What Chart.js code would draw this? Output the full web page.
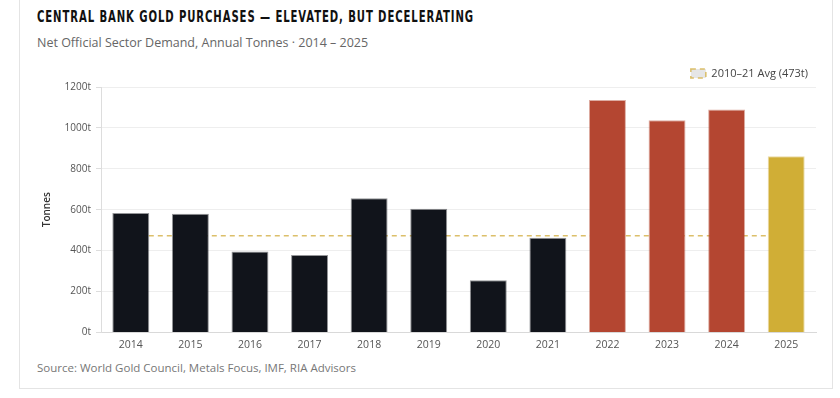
<!DOCTYPE html>
<html>
<head>
<meta charset="utf-8">
<script src="https://cdn.jsdelivr.net/npm/chart.js@4.4.1/dist/chart.umd.min.js"></script>
<style>
  html, body { margin:0; padding:0; background:#fff; width:840px; height:398px; overflow:hidden; }
  #card { position:absolute; left:19px; top:-2px; width:814px; height:391px; border:1px solid #e4e4e4; background:#fff; box-sizing:border-box; }
  #title { position:absolute; left:37px; top:8px; font-family:"DejaVu Sans Condensed","DejaVu Sans",sans-serif; font-weight:bold; font-size:15px; letter-spacing:1.2px; color:#111; white-space:nowrap; transform-origin:0 0; }
  #subtitle { position:absolute; left:37px; top:34px; font-family:"Open Sans",sans-serif; font-size:12.5px; color:#666; white-space:nowrap; }
  #source { position:absolute; left:37px; top:360px; font-family:"Open Sans",sans-serif; font-size:11.5px; color:#777; white-space:nowrap; }
  #wrap { position:absolute; left:19px; top:55px; width:814px; height:302px; }
</style>
</head>
<body>
<div id="card"></div>
<div id="title">CENTRAL BANK GOLD PURCHASES — ELEVATED, BUT DECELERATING</div>
<div id="subtitle">Net Official Sector Demand, Annual Tonnes · 2014 – 2025</div>
<div id="source">Source: World Gold Council, Metals Focus, IMF, RIA Advisors</div>
<div id="wrap"><canvas id="c" width="814" height="302"></canvas></div>
<script>
const years = ["2014","2015","2016","2017","2018","2019","2020","2021","2022","2023","2024","2025"];
const tonnes = [584, 580, 395, 379, 656, 605, 255, 463, 1136, 1037, 1090, 861];
const avgLabel = "2010–21 Avg (473t)";
const avgLine = [473, 473, 473, 473, 473, 473, 473, 473, 473, 473, 473, 473];
const yTicks = [0, 200, 400, 600, 800, 1000, 1200];

// fit title width
(function(){
  const t = document.getElementById('title');
  const w = t.getBoundingClientRect().width;
  t.style.transform = 'scaleX(' + (437 / w) + ')';
})();

function barFill(ctx) {
  const y = +years[ctx.dataIndex];
  if (y >= 2025) return '#d0ae36';
  if (y >= 2022) return '#b44631';
  return '#11141b';
}
function barEdge(ctx) {
  const y = +years[ctx.dataIndex];
  if (y >= 2025) return 'rgba(208,174,54,0.45)';
  if (y >= 2022) return 'rgba(180,70,49,0.45)';
  return 'rgba(17,20,27,0.45)';
}

const legendHeight = {
  id: 'legendHeight',
  beforeInit(chart) {
    const orig = chart.legend.fit;
    chart.legend.fit = function () {
      orig.call(this);
      this.height = 27;
    };
  }
};

const font = { family: "'Open Sans', sans-serif", size: 10 };

new Chart(document.getElementById('c'), {
  type: 'bar',
  data: {
    labels: years,
    datasets: [
      {
        type: 'bar',
        label: 'Net Official Sector Demand',
        data: tonnes,
        backgroundColor: barFill,
        borderColor: barEdge,
        borderWidth: 1,
        categoryPercentage: 1,
        barPercentage: 0.62,
        order: 1
      },
      {
        type: 'line',
        label: avgLabel,
        data: avgLine,
        borderColor: 'rgba(214,180,80,0.85)',
        backgroundColor: '#e6e6e6',
        borderWidth: 1.5,
        borderDash: [5, 4],
        pointRadius: 0,
        fill: false,
        order: 2
      }
    ]
  },
  plugins: [legendHeight],
  options: {
    responsive: false,
    animation: false,
    layout: { padding: { left: 18, right: 17, top: 5, bottom: 0 } },
    plugins: {
      legend: {
        position: 'top',
        align: 'end',
        labels: {
          filter: (item) => item.datasetIndex === 1,
          boxWidth: 15,
          boxHeight: 9,
          padding: 8,
          color: '#444',
          font: { family: "'Open Sans', sans-serif", size: 11 }
        }
      },
      tooltip: { enabled: false }
    },
    scales: {
      x: {
        grid: { display: false, drawTicks: false },
        border: { display: true, color: '#d9d9d9' },
        ticks: { color: '#555', font: { family: "'Open Sans', sans-serif", size: 10.5 }, padding: 6 }
      },
      y: {
        min: 0,
        max: 1200,
        afterBuildTicks: (s) => { s.ticks = yTicks.map(v => ({ value: v })); },
        afterFit: (s) => { s.width = 64; },
        grid: { color: '#eeeeee', tickLength: 5, tickColor: '#dddddd' },
        border: { display: true, color: '#dddddd' },
        ticks: { color: '#555', font: font, padding: 5, callback: (v) => v + 't' },
        title: { display: true, text: 'Tonnes', color: '#333', font: { family: "'Open Sans', sans-serif", size: 10, weight: '600' } }
      }
    }
  }
});
</script>
</body>
</html>
